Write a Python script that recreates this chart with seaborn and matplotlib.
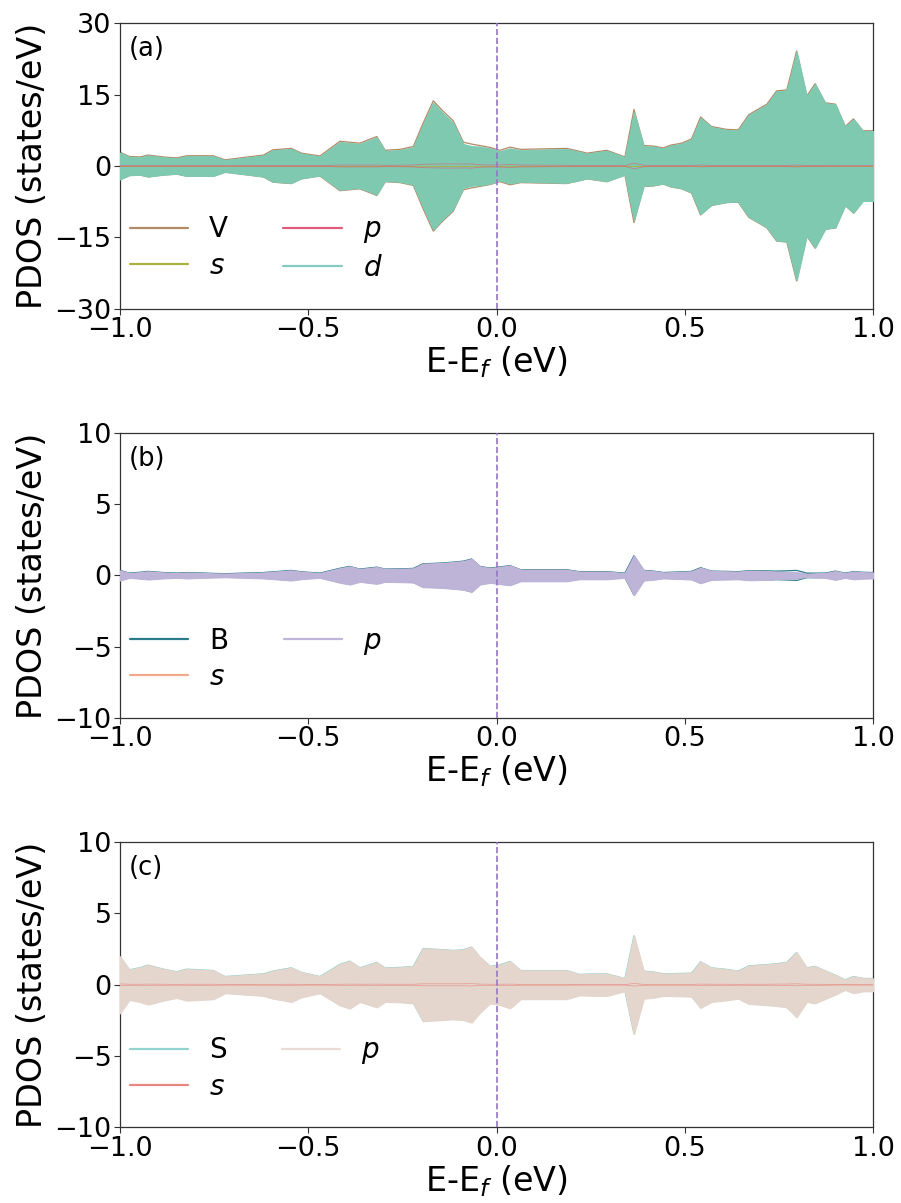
import matplotlib
matplotlib.use("Agg")
import matplotlib.pyplot as plt
import seaborn as sns

# Energy grid relative to the Fermi level (eV)
energy = [-1.000, -0.975, -0.947, -0.925, -0.885, -0.849, -0.823, -0.752, -0.721, -0.619,
          -0.594, -0.545, -0.518, -0.469, -0.416, -0.390, -0.363, -0.318, -0.296, -0.256,
          -0.221, -0.195, -0.168, -0.143, -0.115, -0.088, -0.066, -0.044, -0.017, 0.009,
          0.036, 0.064, 0.186, 0.220, 0.240, 0.293, 0.341, 0.365, 0.391, 0.416,
          0.443, 0.463, 0.492, 0.518, 0.542, 0.571, 0.611, 0.642, 0.670, 0.718,
          0.744, 0.771, 0.797, 0.824, 0.846, 0.873, 0.900, 0.926, 0.948, 0.973, 1.000]

# V atom: total and orbital-projected DOS (states/eV), spin up mirrored for spin down
V_total = [2.9, 2.0, 1.9, 2.3, 1.9, 1.7, 2.15, 2.15, 1.3, 2.3,
           3.4, 3.7, 2.7, 2.1, 5.2, 5.0, 4.8, 6.2, 3.3, 3.5,
           4.1, 9.0, 13.7, 11.6, 9.5, 5.0, 4.6, 4.3, 3.9, 3.3,
           3.96, 3.5, 3.7, 3.1, 2.7, 3.3, 1.9, 11.9, 4.3, 4.2,
           3.8, 4.4, 4.8, 5.7, 10.3, 8.3, 7.7, 7.6, 10.8, 13.0,
           15.8, 16.0, 24.2, 14.7, 17.3, 13.3, 13.0, 8.3, 9.9, 7.4, 7.4]
V_s = [0.03] * 61
V_p = [0.08, 0.06, 0.06, 0.07, 0.06, 0.06, 0.07, 0.07, 0.05, 0.08,
       0.10, 0.12, 0.10, 0.08, 0.20, 0.20, 0.18, 0.20, 0.15, 0.16,
       0.20, 0.35, 0.40, 0.42, 0.45, 0.40, 0.45, 0.25, 0.20, 0.22,
       0.30, 0.20, 0.15, 0.10, 0.10, 0.10, 0.06, 0.60, 0.15, 0.12,
       0.10, 0.10, 0.10, 0.10, 0.20, 0.12, 0.12, 0.10, 0.12, 0.12,
       0.12, 0.13, 0.20, 0.10, 0.10, 0.08, 0.06, 0.05, 0.06, 0.05, 0.05]
V_d = [2.79, 1.91, 1.81, 2.20, 1.81, 1.61, 2.05, 2.05, 1.22, 2.19,
       3.27, 3.55, 2.57, 1.99, 4.97, 4.77, 4.59, 5.97, 3.12, 3.31,
       3.87, 8.62, 13.27, 11.15, 9.02, 4.57, 4.12, 4.02, 3.67, 3.05,
       3.63, 3.27, 3.52, 2.97, 2.57, 3.17, 1.81, 11.27, 4.12, 4.05,
       3.67, 4.27, 4.67, 5.57, 10.07, 8.15, 7.55, 7.47, 10.65, 12.85,
       15.65, 15.84, 23.97, 14.57, 17.17, 13.19, 12.91, 8.22, 9.81, 7.32, 7.32]

# B atom
B_total = [0.35, 0.16, 0.22, 0.28, 0.20, 0.16, 0.20, 0.14, 0.12, 0.20,
           0.25, 0.35, 0.25, 0.16, 0.50, 0.63, 0.44, 0.58, 0.44, 0.46,
           0.49, 0.82, 0.84, 0.87, 0.93, 1.00, 1.15, 0.63, 0.51, 0.60,
           0.68, 0.40, 0.40, 0.26, 0.26, 0.26, 0.16, 1.38, 0.35, 0.30,
           0.20, 0.22, 0.25, 0.28, 0.54, 0.30, 0.28, 0.26, 0.33, 0.32,
           0.30, 0.32, 0.35, 0.16, 0.16, 0.16, 0.30, 0.16, 0.26, 0.22, 0.20]
B_s = [0.02, 0.01, 0.01, 0.02, 0.01, 0.01, 0.01, 0.01, 0.01, 0.01,
       0.02, 0.02, 0.02, 0.01, 0.02, 0.02, 0.02, 0.02, 0.02, 0.02,
       0.02, 0.03, 0.03, 0.03, 0.03, 0.03, 0.03, 0.02, 0.02, 0.02,
       0.02, 0.02, 0.02, 0.01, 0.01, 0.01, 0.01, 0.04, 0.02, 0.02,
       0.01, 0.01, 0.02, 0.02, 0.03, 0.02, 0.02, 0.02, 0.03, 0.04,
       0.05, 0.08, 0.10, 0.08, 0.04, 0.02, 0.02, 0.01, 0.02, 0.01, 0.01]
B_p = [0.35, 0.16, 0.22, 0.28, 0.20, 0.16, 0.20, 0.14, 0.12, 0.20,
       0.25, 0.35, 0.25, 0.16, 0.50, 0.63, 0.44, 0.58, 0.44, 0.46,
       0.49, 0.82, 0.84, 0.87, 0.93, 1.00, 1.15, 0.63, 0.51, 0.60,
       0.68, 0.40, 0.40, 0.26, 0.26, 0.26, 0.16, 1.38, 0.35, 0.30,
       0.20, 0.22, 0.25, 0.28, 0.54, 0.30, 0.28, 0.26, 0.33, 0.30,
       0.25, 0.22, 0.22, 0.08, 0.14, 0.16, 0.30, 0.16, 0.26, 0.22, 0.20]

# S atom
S_total = [1.99, 1.05, 1.20, 1.38, 1.10, 0.91, 1.10, 1.00, 0.58, 0.77,
           0.96, 1.19, 0.87, 0.58, 1.43, 1.66, 1.19, 1.57, 1.19, 1.22,
           1.29, 2.55, 2.50, 2.46, 2.41, 2.46, 2.64, 1.94, 1.29, 1.40,
           1.64, 1.00, 1.00, 0.73, 0.75, 0.77, 0.44, 3.44, 0.96, 0.90,
           0.77, 0.78, 0.80, 0.82, 1.61, 1.19, 1.08, 0.96, 1.33, 1.42,
           1.48, 1.57, 2.27, 1.19, 1.29, 0.98, 0.68, 0.35, 0.58, 0.45, 0.44]
S_s = [0.06, 0.04, 0.04, 0.05, 0.04, 0.03, 0.04, 0.04, 0.02, 0.03,
       0.03, 0.04, 0.03, 0.02, 0.04, 0.05, 0.04, 0.05, 0.04, 0.04,
       0.04, 0.07, 0.07, 0.07, 0.07, 0.07, 0.08, 0.05, 0.04, 0.04,
       0.05, 0.03, 0.03, 0.02, 0.02, 0.02, 0.02, 0.09, 0.03, 0.03,
       0.03, 0.03, 0.03, 0.03, 0.05, 0.04, 0.04, 0.03, 0.04, 0.04,
       0.05, 0.05, 0.07, 0.04, 0.04, 0.03, 0.02, 0.01, 0.02, 0.02, 0.02]
S_p = [1.99, 1.05, 1.20, 1.38, 1.10, 0.91, 1.10, 1.00, 0.58, 0.77,
       0.96, 1.19, 0.87, 0.58, 1.43, 1.66, 1.19, 1.57, 1.19, 1.22,
       1.29, 2.55, 2.50, 2.46, 2.41, 2.46, 2.64, 1.94, 1.29, 1.40,
       1.64, 1.00, 1.00, 0.73, 0.75, 0.77, 0.44, 3.44, 0.96, 0.90,
       0.77, 0.78, 0.80, 0.82, 1.61, 1.19, 1.08, 0.96, 1.33, 1.42,
       1.48, 1.57, 2.27, 1.19, 1.29, 0.98, 0.68, 0.35, 0.58, 0.45, 0.44]

# each orbital: (legend label, values, line colour, fill colour, line drawn above fills)
panels = [
    {"tag": "(a)", "ylim": 30, "yticks": [-30, -15, 0, 15, 30],
     "total": ("V", V_total, "#b38a67"),
     "parts": [("$s$", V_s, "#a9b23c", "#a9b23c", True),
               ("$p$", V_p, "#df5c7c", "#df5c7c", True),
               ("$d$", V_d, "#86cbc3", "#7fc9b1", False)]},
    {"tag": "(b)", "ylim": 10, "yticks": [-10, -5, 0, 5, 10],
     "total": ("B", B_total, "#2b7c8a"),
     "parts": [("$s$", B_s, "#f2a98c", "#f2a98c", False),
               ("$p$", B_p, "#bfb6da", "#bdb4d7", False)]},
    {"tag": "(c)", "ylim": 10, "yticks": [-10, -5, 0, 5, 10],
     "total": ("S", S_total, "#93d3cf"),
     "parts": [("$s$", S_s, "#e7877d", "#e7877d", True),
               ("$p$", S_p, "#e8dcd4", "#e4d6cd", False)]},
]

sns.set_style("ticks")
plt.rcParams["font.family"] = ["DejaVu Sans"]
plt.rcParams["mathtext.fontset"] = "dejavusans"
for key in ("text.color", "axes.labelcolor", "xtick.labelcolor", "ytick.labelcolor"):
    plt.rcParams[key] = "black"

fig, axes = plt.subplots(3, 1, figsize=(9.01, 12.03), dpi=100)
fig.subplots_adjust(left=0.1332, right=0.969, top=0.9806, bottom=0.0628, hspace=0.435)

for ax, panel in zip(axes, panels):
    name, tot, tcol = panel["total"]
    # total DOS outline sits underneath the orbital fills
    sns.lineplot(x=energy, y=tot, ax=ax, color=tcol, lw=0.9, label=name, zorder=2)
    sns.lineplot(x=energy, y=[-v for v in tot], ax=ax, color=tcol, lw=0.9,
                 legend=False, zorder=2)
    # filled orbital contributions; the larger ones are drawn later and cover
    for lab, vals, lcol, fcol, top in panel["parts"]:
        ax.fill_between(energy, [-v for v in vals], vals, facecolor=fcol,
                        edgecolor=fcol, lw=1.0, zorder=3)
    for lab, vals, lcol, fcol, top in panel["parts"]:
        z = 4 if top else 1
        sns.lineplot(x=energy, y=vals, ax=ax, color=lcol, lw=0.5, alpha=0.8,
                     label=lab, zorder=z)
        sns.lineplot(x=energy, y=[-v for v in vals], ax=ax, color=lcol, lw=0.5,
                     alpha=0.8, legend=False, zorder=z)

    ax.axvline(0.0, color="#9676c4", ls="--", lw=1.2, zorder=5)
    ax.set_xlim(-1.0, 1.0)
    ax.set_ylim(-panel["ylim"], panel["ylim"])
    ax.set_xticks([-1.0, -0.5, 0.0, 0.5, 1.0])
    ax.set_yticks(panel["yticks"])
    ax.tick_params(labelsize=19.5, length=4, width=0.8, pad=2, color="#333333")
    for sp in ax.spines.values():
        sp.set_visible(True)
        sp.set_color("#333333")
        sp.set_linewidth(0.9)
    ax.set_xlabel("E-E$_f$ (eV)", fontsize=24, labelpad=1)
    ax.set_ylabel("PDOS (states/eV)", fontsize=24, labelpad=4)
    ax.text(0.012, 0.955, panel["tag"], transform=ax.transAxes, fontsize=18.5,
            va="top", ha="left")

    leg = ax.legend(ncol=2, loc="lower left", frameon=False,
                    fontsize=20, handlelength=2.1, handletextpad=0.75,
                    columnspacing=2.0, labelspacing=0.3, borderpad=0.1,
                    borderaxespad=0.25, bbox_to_anchor=(0.0, 0.06))
    # thicker, opaque keys in the legend only
    for line in leg.get_lines():
        line.set_linewidth(1.6)
        line.set_alpha(1.0)

fig.savefig("out.png", dpi=100)
